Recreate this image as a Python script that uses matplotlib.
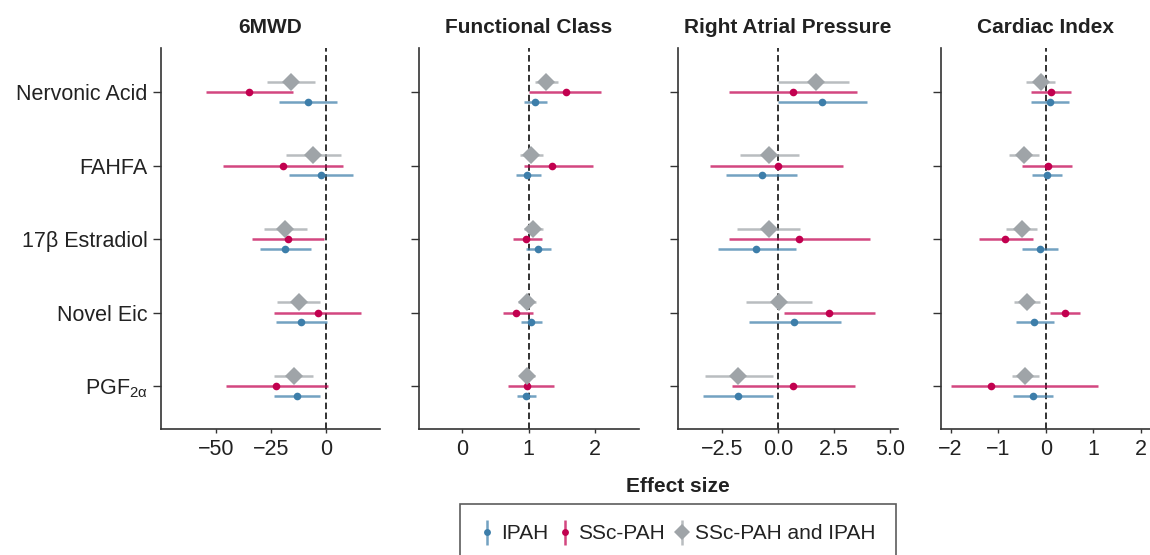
import numpy as np
import matplotlib
matplotlib.use("Agg")
import matplotlib.pyplot as plt
from matplotlib.colors import to_rgba
from matplotlib.lines import Line2D

plt.rcParams['font.family'] = ['Liberation Sans', 'DejaVu Sans']
plt.rcParams['mathtext.default'] = 'regular'

# metabolites, top to bottom
metabolites = ["Nervonic Acid", "FAHFA", "17\u03b2 Estradiol", "Novel Eic", r"PGF$_{2\alpha}$"]
panel_titles = ["6MWD", "Functional Class", "Right Atrial Pressure", "Cardiac Index"]
null_values = [0, 1, 0, 0]

# (estimate, lower, upper) per metabolite
mwd_ipah = [(-8.5, -21.6, 4.8), (-2.3, -16.8, 12.1), (-18.7, -30.2, -7.1), (-11.5, -23.0, 0.2), (-13.1, -23.6, -2.9)]
mwd_ssc = [(-34.9, -54.8, -15.0), (-19.6, -46.8, 7.7), (-17.2, -33.7, -0.8), (-3.8, -23.7, 16.0), (-22.7, -45.6, 0.8)]
mwd_both = [(-15.9, -26.7, -5.1), (-6.0, -18.4, 6.6), (-18.7, -28.2, -8.9), (-12.4, -22.4, -3.0), (-14.8, -23.6, -6.0)]

fc_ipah = [(1.10, 0.925, 1.275), (0.97, 0.81, 1.185), (1.135, 0.965, 1.335), (1.04, 0.89, 1.20), (0.965, 0.83, 1.11)]
fc_ssc = [(1.555, 1.01, 2.095), (1.355, 0.935, 1.975), (0.955, 0.765, 1.20), (0.805, 0.62, 1.065), (0.97, 0.69, 1.385)]
fc_both = [(1.26, 1.10, 1.435), (1.04, 0.87, 1.215), (1.07, 0.93, 1.21), (0.97, 0.845, 1.105), (0.97, 0.855, 1.095)]

rap_ipah = [(1.97, -0.015, 3.98), (-0.73, -2.32, 0.82), (-0.99, -2.69, 0.78), (0.73, -1.32, 2.80), (-1.78, -3.36, -0.22)]
rap_ssc = [(0.66, -2.21, 3.53), (-0.015, -3.03, 2.90), (0.94, -2.18, 4.11), (2.29, 0.27, 4.33), (0.66, -2.05, 3.41)]
rap_both = [(1.69, 0.015, 3.17), (-0.43, -1.70, 0.93), (-0.42, -1.84, 0.96), (0.045, -1.42, 1.51), (-1.81, -3.26, -0.21)]

ci_ipah = [(0.09, -0.30, 0.48), (0.02, -0.28, 0.335), (-0.13, -0.49, 0.25), (-0.245, -0.62, 0.17), (-0.26, -0.68, 0.15)]
ci_ssc = [(0.105, -0.32, 0.525), (0.04, -0.50, 0.545), (-0.85, -1.40, -0.27), (0.405, 0.10, 0.71), (-1.155, -2.0, 1.10)]
ci_both = [(-0.105, -0.405, 0.20), (-0.455, -0.78, -0.145), (-0.50, -0.83, -0.18), (-0.40, -0.67, -0.13), (-0.43, -0.70, -0.145)]

panel_data = [
    (mwd_ipah, mwd_ssc, mwd_both),
    (fc_ipah, fc_ssc, fc_both),
    (rap_ipah, rap_ssc, rap_both),
    (ci_ipah, ci_ssc, ci_both),
]
xlims = [(-75, 24.4), (-0.65, 2.66), (-4.47, 5.35), (-2.2, 2.19)]
xticks = [[-50, -25, 0], [0, 1, 2], [-2.5, 0.0, 2.5, 5.0], [-2, -1, 0, 1, 2]]
xticklabels = [["\u221250", "\u221225", "0"], ["0", "1", "2"],
               ["\u22122.5", "0.0", "2.5", "5.0"], ["\u22122", "\u22121", "0", "1", "2"]]

group_names = ["IPAH", "SSc-PAH", "SSc-PAH and IPAH"]
colors = ["#3d7eaa", "#c2004f", "#9fa4a8"]
markers = ["o", "o", "D"]
msizes = [5.5, 5.5, 9]
offsets = [0.135, 0.0, -0.14]

fig = plt.figure(figsize=(11.5, 5.55), dpi=100)
lefts = [161, 419, 678, 941]
widths = [219, 220, 220, 209]
top_px, bottom_px = 48, 429
axes = []
for i in range(4):
    ax = fig.add_axes([lefts[i] / 1150, 1 - bottom_px / 555, widths[i] / 1150, (bottom_px - top_px) / 555])
    axes.append(ax)

rows = np.arange(len(metabolites))
for i, ax in enumerate(axes):
    ax.axvline(null_values[i], color="#222222", lw=1.3, ls=(0, (3.6, 1.9)), zorder=1)
    for g in range(3):
        vals = np.array(panel_data[i][g])
        est, lo, hi = vals[:, 0], vals[:, 1], vals[:, 2]
        y = rows + offsets[g]
        ax.hlines(y, lo, hi, color=to_rgba(colors[g], 0.72), lw=1.8, zorder=2)
        ax.plot(est, y, ls="none", marker=markers[g], ms=msizes[g], color=colors[g],
                markeredgewidth=0, zorder=3)
    ax.set_xlim(*xlims[i])
    ax.set_ylim(4.585, -0.6)
    ax.set_xticks(xticks[i])
    ax.set_xticklabels(xticklabels[i])
    ax.set_yticks(rows)
    if i == 0:
        ax.set_yticklabels(metabolites)
    else:
        ax.set_yticklabels([])
    for s in ["top", "right"]:
        ax.spines[s].set_visible(False)
    for s in ["left", "bottom"]:
        ax.spines[s].set_color("#333333")
        ax.spines[s].set_linewidth(1.2)
    ax.tick_params(axis="y", length=5.5, width=1.0, color="#333333", labelsize=15.5,
                   labelcolor="#222222", pad=4)
    ax.tick_params(axis="x", length=3, width=1.0, color="#333333", labelsize=15.5,
                   labelcolor="#222222", pad=4)
    ax.set_title(panel_titles[i], fontsize=15, fontweight="bold", color="#222222", pad=11)

fig.text(678 / 1150, 1 - 487 / 555, "Effect size", ha="center", va="center",
         fontsize=15, fontweight="bold", color="#222222")

handles = []
for g in range(3):
    bar = Line2D([], [], ls="none", marker="|", ms=18, mew=1.8, color=to_rgba(colors[g], 0.72))
    dot = Line2D([], [], ls="none", marker=markers[g], ms=msizes[g] * 0.9, mew=0, color=colors[g])
    handles.append((bar, dot))
leg = fig.legend(handles, group_names, loc="upper center", bbox_to_anchor=(678 / 1150, 1 - 504 / 555),
                 ncol=3, frameon=True, fancybox=False, fontsize=15, handlelength=0.7,
                 handletextpad=0.3, columnspacing=0.45, borderpad=0.95, borderaxespad=0)
leg.get_frame().set_edgecolor("#333333")
leg.get_frame().set_linewidth(1.2)
for t in leg.get_texts():
    t.set_color("#222222")

fig.savefig("out.png", dpi=100)
